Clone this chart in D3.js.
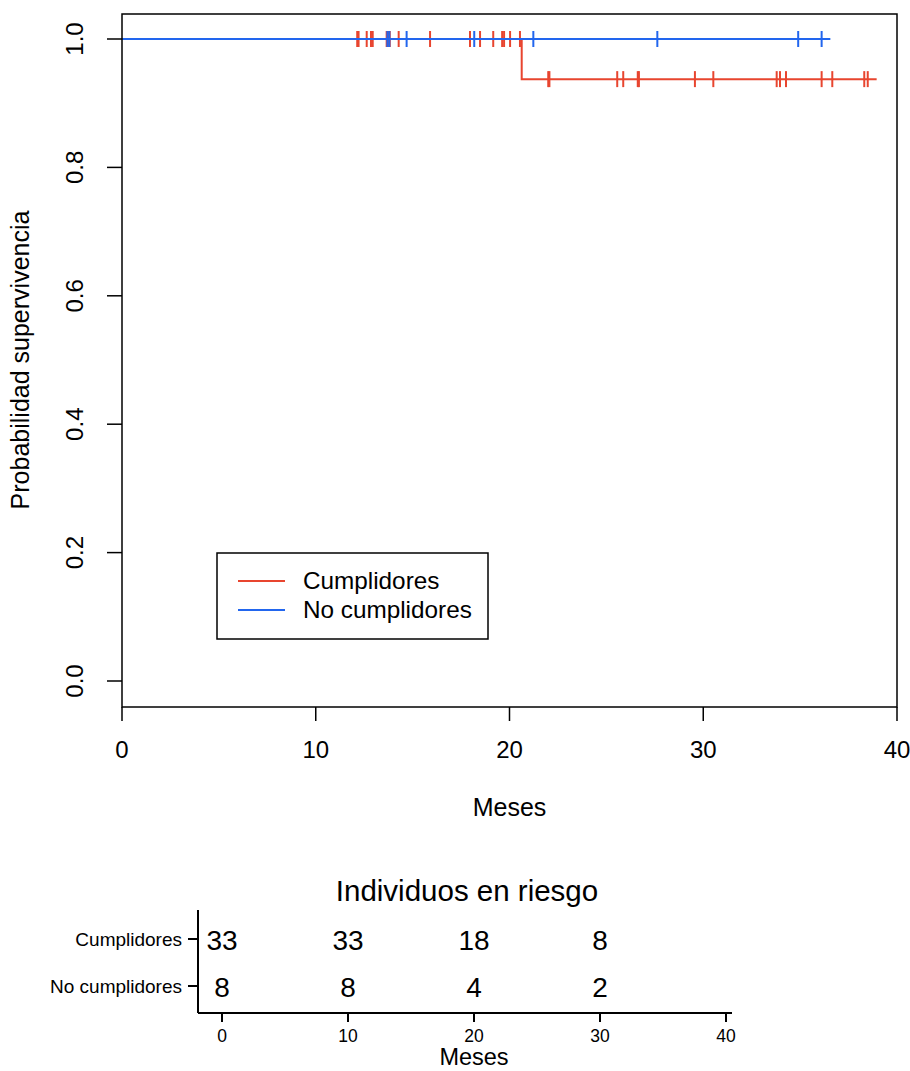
<!DOCTYPE html>
<html>
<head>
<meta charset="utf-8">
<script src="https://cdn.jsdelivr.net/npm/d3@7"></script>
<style>
  html, body { margin: 0; padding: 0; background: #fff; }
  svg { display: block; font-family: "Liberation Sans", Arial, Helvetica, sans-serif; }
</style>
</head>
<body>
<svg id="chart" width="910" height="1071"></svg>
<script>
// Kaplan-Meier follow-up data (months) for the two adherence groups
const groupNames = ["Cumplidores", "No cumplidores"];
const groupColors = ["#E8452F", "#2266EE"];

const eventsCumplidores = [20.63];
const censoredCumplidores = [12.14, 12.21, 12.63, 12.85, 12.94, 13.66, 13.74, 13.82, 14.28,
  15.90, 17.96, 18.48, 19.16, 19.62, 19.72, 20.03, 20.54, 22.00, 22.06, 25.56, 25.87,
  26.62, 26.68, 29.57, 30.52, 33.79, 33.96, 34.27, 36.11, 36.66, 38.31, 38.49];
const followEndCumplidores = 38.95;

const eventsNoCumplidores = [];
const censoredNoCumplidores = [13.70, 13.80, 14.69, 18.18, 21.23, 27.63, 34.90, 36.11];
const followEndNoCumplidores = 36.56;

// numbers at risk table
const riskTimes = [0, 10, 20, 30];
const riskCumplidores = [33, 33, 18, 8];
const riskNoCumplidores = [8, 8, 4, 2];

const xTicks = [0, 10, 20, 30, 40];
const yTicks = [0, 0.2, 0.4, 0.6, 0.8, 1.0];

// Kaplan-Meier step function from event and censoring times
function kaplanMeier(events, censored, endTime) {
  const all = events.map(t => ({t, e: 1})).concat(censored.map(t => ({t, e: 0})))
    .sort((a, b) => a.t - b.t);
  let s = 1;
  const pts = [[0, 1]];
  const eventTimes = Array.from(new Set(events)).sort((a, b) => a - b);
  eventTimes.forEach(et => {
    const atRisk = all.filter(d => d.t >= et).length;
    const d = events.filter(x => x === et).length;
    pts.push([et, s]);
    s = s * (1 - d / atRisk);
    pts.push([et, s]);
  });
  pts.push([endTime, s]);
  const survAt = t => {
    let v = 1;
    for (let i = 0; i < pts.length; i++) if (pts[i][0] <= t) v = pts[i][1];
    return v;
  };
  return {pts, marks: censored.map(t => [t, survAt(t)])};
}

const curves = [
  kaplanMeier(eventsCumplidores, censoredCumplidores, followEndCumplidores),
  kaplanMeier(eventsNoCumplidores, censoredNoCumplidores, followEndNoCumplidores)
];

const svg = d3.select("#chart");

// ---------- survival plot ----------
const x = d3.scaleLinear().domain([0, 40]).range([122, 897]);
const y = d3.scaleLinear().domain([0, 1]).range([681, 39]);
const boxTop = 14, boxBottom = 707;

const plot = svg.append("g");

curves.forEach((c, i) => {
  plot.append("path")
    .attr("d", d3.line().x(d => x(d[0])).y(d => y(d[1]))(c.pts))
    .attr("fill", "none")
    .attr("stroke", groupColors[i])
    .attr("stroke-width", 2);
  plot.selectAll(null).data(c.marks).enter().append("line")
    .attr("x1", d => x(d[0])).attr("x2", d => x(d[0]))
    .attr("y1", d => y(d[1]) - 8).attr("y2", d => y(d[1]) + 8)
    .attr("stroke", groupColors[i])
    .attr("stroke-width", 2);
});

// frame
plot.append("rect")
  .attr("x", x(0)).attr("y", boxTop)
  .attr("width", x(40) - x(0)).attr("height", boxBottom - boxTop)
  .attr("fill", "none").attr("stroke", "#000").attr("stroke-width", 1.5);

// y axis (rotated labels)
const yAxis = plot.append("g");
yAxis.selectAll(null).data(yTicks).enter().append("line")
  .attr("x1", 107).attr("x2", x(0))
  .attr("y1", d => y(d)).attr("y2", d => y(d))
  .attr("stroke", "#000").attr("stroke-width", 1.5);
yAxis.selectAll(null).data(yTicks).enter().append("text")
  .attr("transform", d => `translate(83,${y(d)}) rotate(-90)`)
  .attr("text-anchor", "middle")
  .attr("font-size", 24)
  .text(d => d3.format(".1f")(d));

plot.append("text")
  .attr("transform", `translate(29,${y(0.5)}) rotate(-90)`)
  .attr("text-anchor", "middle")
  .attr("font-size", 25)
  .text("Probabilidad supervivencia");

// x axis
const xAxis = plot.append("g");
xAxis.selectAll(null).data(xTicks).enter().append("line")
  .attr("x1", d => x(d)).attr("x2", d => x(d))
  .attr("y1", boxBottom).attr("y2", 721)
  .attr("stroke", "#000").attr("stroke-width", 1.5);
xAxis.selectAll(null).data(xTicks).enter().append("text")
  .attr("x", d => x(d)).attr("y", 758)
  .attr("text-anchor", "middle")
  .attr("font-size", 24)
  .text(d => d);
plot.append("text")
  .attr("x", x(20)).attr("y", 816)
  .attr("text-anchor", "middle")
  .attr("font-size", 25)
  .text("Meses");

// legend
const legend = plot.append("g");
legend.append("rect")
  .attr("x", 217).attr("y", 553).attr("width", 271).attr("height", 86)
  .attr("fill", "#fff").attr("stroke", "#000").attr("stroke-width", 1.5);
groupNames.forEach((name, i) => {
  const ly = 581 + i * 29;
  legend.append("line")
    .attr("x1", 238).attr("x2", 285).attr("y1", ly).attr("y2", ly)
    .attr("stroke", groupColors[i]).attr("stroke-width", 2);
  legend.append("text")
    .attr("x", 303).attr("y", ly + 8)
    .attr("font-size", 24.3)
    .text(name);
});

// ---------- numbers at risk ----------
const xr = d3.scaleLinear().domain([0, 40]).range([222, 726]);
const rowY = [939, 986];
const risk = [riskCumplidores, riskNoCumplidores];
const table = svg.append("g");

table.append("text")
  .attr("x", 467).attr("y", 901)
  .attr("text-anchor", "middle")
  .attr("font-size", 29.5)
  .text("Individuos en riesgo");

table.append("line")
  .attr("x1", 198).attr("x2", 198).attr("y1", 910).attr("y2", 1013)
  .attr("stroke", "#000").attr("stroke-width", 2);
table.append("line")
  .attr("x1", 198).attr("x2", 732).attr("y1", 1013).attr("y2", 1013)
  .attr("stroke", "#000").attr("stroke-width", 2);

groupNames.forEach((name, i) => {
  table.append("line")
    .attr("x1", 188).attr("x2", 198).attr("y1", rowY[i]).attr("y2", rowY[i])
    .attr("stroke", "#000").attr("stroke-width", 2);
  table.append("text")
    .attr("x", 182).attr("y", rowY[i] + 7)
    .attr("text-anchor", "end")
    .attr("font-size", 19)
    .text(name);
  table.selectAll(null).data(riskTimes).enter().append("text")
    .attr("x", (d) => xr(d)).attr("y", rowY[i] + 11)
    .attr("text-anchor", "middle")
    .attr("font-size", 28)
    .text((d, j) => risk[i][j]);
});

table.selectAll(null).data(xTicks).enter().append("line")
  .attr("x1", d => xr(d)).attr("x2", d => xr(d))
  .attr("y1", 1013).attr("y2", 1022)
  .attr("stroke", "#000").attr("stroke-width", 2);
table.selectAll(null).data(xTicks).enter().append("text")
  .attr("x", d => xr(d)).attr("y", 1042)
  .attr("text-anchor", "middle")
  .attr("font-size", 17.5)
  .text(d => d);
table.append("text")
  .attr("x", xr(20)).attr("y", 1065)
  .attr("text-anchor", "middle")
  .attr("font-size", 23.5)
  .text("Meses");
</script>
</body>
</html>
